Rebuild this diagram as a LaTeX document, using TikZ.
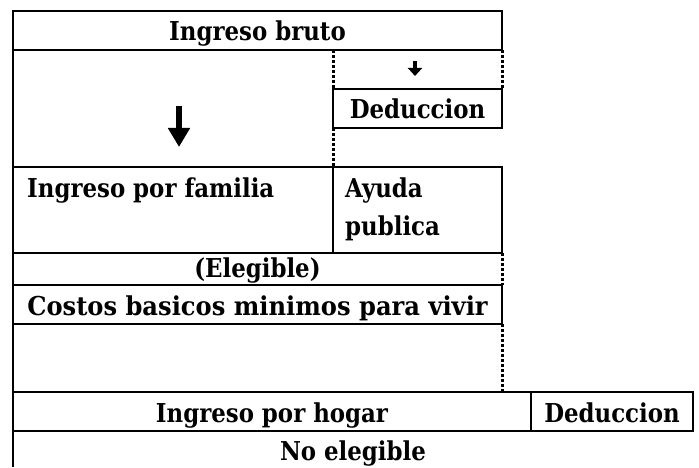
\documentclass[tikz,border=0pt]{standalone}
\usepackage{fontspec}
\setmainfont{DejaVu Serif}[FakeStretch=0.88]
\usetikzlibrary{positioning,arrows.meta}
\tikzset{cell/.style={draw, rectangle, line width=2.4pt, inner sep=0pt, outer sep=0pt,
                      text height=21pt, text depth=0pt},
         txt/.style={inner sep=0pt},
         wall/.style={line width=2.4pt},
         gap/.style={line width=3pt, dash pattern=on 3pt off 2pt}}

\begin{document}
\begin{tikzpicture}[x=1pt, y=-1pt, font=\bfseries\fontsize{26}{30}\selectfont]
                \useasboundingbox (0,0) rectangle (699,468);

                % ingreso bruto y deduccion
                \node[cell, minimum width=489pt, minimum height=39pt] (bruto) at (257.5,30.5) {Ingreso bruto};
                \node[cell, minimum width=169pt, minimum height=39pt] (ded) at (417.5,108.5) {Deduccion};

                \coordinate (big1) at (179,106);
                \coordinate (big2) at (179,147);
                \coordinate (small1) at (415,61);
                \coordinate (small2) at (415,76);
                \draw[line width=6pt, -{Triangle[width=21pt,length=19pt]}] (big1) -- (big2);
                \draw[line width=3.5pt, -{Triangle[width=14pt,length=8pt]}] (small1) -- (small2);

                % ingreso por familia
                \node[cell, minimum width=320pt, minimum height=86pt] (familia) at (173,210) {};
                \node[cell, minimum width=169pt, minimum height=86pt] (ayuda) at (417.5,210) {};
                \node[txt, anchor=base west] (familiatxt) at (27,197) {Ingreso por familia};
                \node[txt, anchor=base west] (ayudatxt) at (345,197) {Ayuda};
                \node[txt, anchor=base west] (publicatxt) at ([yshift=-38pt]ayudatxt.base west) {publica};

                \node[txt, anchor=base] (elegible) at (257.5,277) {(Elegible)};
                \node[cell, minimum width=489pt, minimum height=39pt] (costos) at (257.5,304.5)
                    {\addfontfeature{FakeStretch=0.93}Costos basicos minimos para vivir};

                % ingreso por hogar
                \node[cell, minimum width=518pt, minimum height=39pt] (hogar) at (272,411.5) {Ingreso por hogar};
                \node[cell, minimum width=162pt, minimum height=39pt] (ded2) at (612,411.5) {Deduccion};
                \node[txt, anchor=base] (noeleg) at (353,460) {No elegible};
                \coordinate (fin) at (13,467);

                \draw[wall] (bruto.south west) -- (familia.north west);
                \draw[wall] (familia.south west) -- (costos.north west);
                \draw[wall] (costos.south west) -- (hogar.north west);
                \draw[wall] (hogar.south west) -- (fin);

                \draw[gap] (bruto.south -| ded.west) -- (ded.north west);
                \draw[gap] (ded.south west) -- (ayuda.north west);
                \draw[gap] (bruto.south east) -- (ded.north east);
                \draw[gap] (ayuda.south east) -- (costos.north east);
                \draw[gap] (costos.south east) -- (hogar.north -| costos.east);
\end{tikzpicture}
\end{document}
